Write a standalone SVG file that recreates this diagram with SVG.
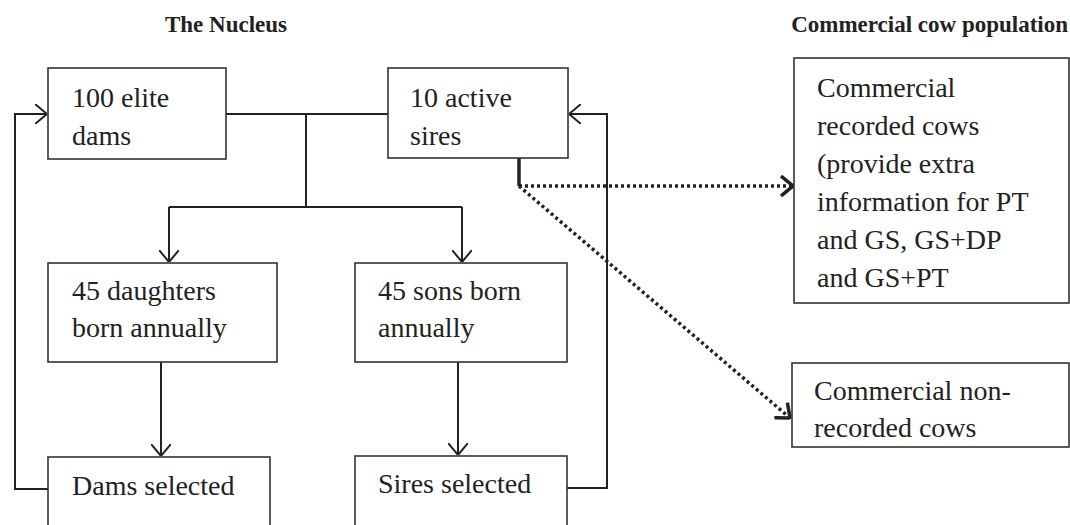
<svg xmlns="http://www.w3.org/2000/svg" width="1070" height="525" viewBox="0 0 1070 525">
<style>
.box{fill:#fff;stroke:#333;stroke-width:1.6}
.t{font-family:"Liberation Serif","Times New Roman",serif;font-size:28px;fill:#222}
.h{font-family:"Liberation Serif","Times New Roman",serif;font-size:23px;font-weight:bold;fill:#222}
.c{fill:none;stroke:#222;stroke-width:2}
.d{fill:none;stroke:#222;stroke-width:3.5;stroke-dasharray:3 3}
</style>
<defs>
<marker id="a" viewBox="0 0 12 20" refX="12" refY="10" markerWidth="12" markerHeight="20" markerUnits="userSpaceOnUse" orient="auto">
<path d="M0,0 L12,10 L0,20" fill="none" stroke="#222" stroke-width="2"/>
</marker>
<marker id="ad" viewBox="0 0 14 22" refX="13" refY="11" markerWidth="14" markerHeight="22" markerUnits="userSpaceOnUse" orient="auto">
<path d="M1,1 L13,11 L1,21" fill="none" stroke="#222" stroke-width="3.5"/>
</marker>
</defs>
<text class="h" x="226" y="32" text-anchor="middle">The Nucleus</text>
<text class="h" x="1068" y="32" text-anchor="end">Commercial cow population</text>
<g id="connectors">
<path class="c" d="M226,114 H388"/>
<path class="c" d="M306,114 V207"/>
<path class="c" d="M169,207 H462"/>
<path class="c" d="M169,207 V262" marker-end="url(#a)"/>
<path class="c" d="M462,207 V262" marker-end="url(#a)"/>
<path class="c" d="M161,362 V456" marker-end="url(#a)"/>
<path class="c" d="M458,362 V455" marker-end="url(#a)"/>
<path class="c" d="M48,489 H15 V114 H47" marker-end="url(#a)"/>
<path class="c" d="M567,488 H607 V114 H569" marker-end="url(#a)"/>
<path fill="none" stroke="#222" stroke-width="3.5" d="M519,158 V186"/>
<path class="d" d="M519,186 H793" marker-end="url(#ad)"/>
<path class="d" d="M519,186 L790,418" marker-end="url(#ad)"/>
</g>
<g id="dams">
<rect class="box" x="48" y="68" width="178" height="91"/>
<text class="t" x="72" y="107">100 elite</text>
<text class="t" x="72" y="145">dams</text>
</g>
<g id="sires">
<rect class="box" x="388" y="68" width="180" height="90"/>
<text class="t" x="410" y="107">10 active</text>
<text class="t" x="410" y="145">sires</text>
</g>
<g id="daughters">
<rect class="box" x="48" y="263" width="229" height="99"/>
<text class="t" x="72" y="300">45 daughters</text>
<text class="t" x="72" y="337">born annually</text>
</g>
<g id="sons">
<rect class="box" x="355" y="263" width="212" height="99"/>
<text class="t" x="378" y="300">45 sons born</text>
<text class="t" x="378" y="337">annually</text>
</g>
<g id="damsSelected">
<rect class="box" x="48" y="457" width="222" height="80"/>
<text class="t" x="72" y="495">Dams selected</text>
</g>
<g id="siresSelected">
<rect class="box" x="355" y="456" width="212" height="80"/>
<text class="t" x="378" y="493">Sires selected</text>
</g>
<g id="recorded">
<rect class="box" x="794" y="58" width="275" height="245"/>
<text class="t" x="817" y="97">Commercial</text>
<text class="t" x="817" y="135">recorded cows</text>
<text class="t" x="817" y="173">(provide extra</text>
<text class="t" x="817" y="211">information for PT</text>
<text class="t" x="817" y="249">and GS, GS+DP</text>
<text class="t" x="817" y="287">and GS+PT</text>
</g>
<g id="nonrecorded">
<rect class="box" x="792" y="363" width="277" height="84"/>
<text class="t" x="814" y="400">Commercial non-</text>
<text class="t" x="814" y="437">recorded cows</text>
</g>
</svg>
